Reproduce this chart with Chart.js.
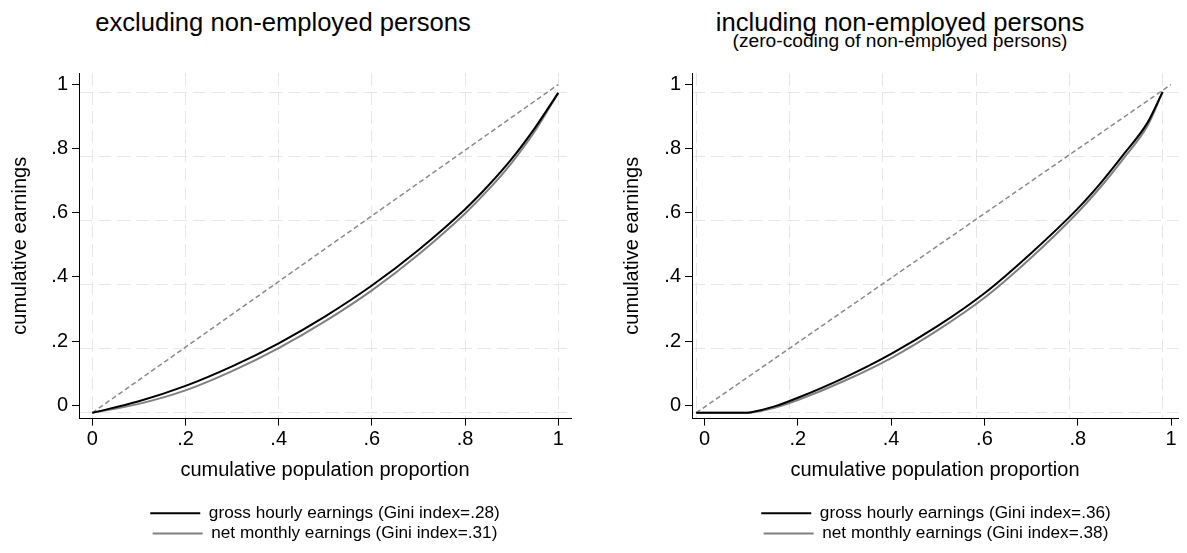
<!DOCTYPE html>
<html>
<head>
<title>Lorenz curves of earnings</title>
<script src="https://cdn.jsdelivr.net/npm/chart.js"></script>
<style>
    body {
        margin: 0;
        background: #fff;
        width: 1187px;
        height: 553px;
        overflow: hidden;
        position: relative;
        font-family: "Liberation Sans", Arial, sans-serif;
        color: #000;
    }
    .panel-title {
        position: absolute;
        width: 600px;
        top: 7px;
        text-align: center;
        font-size: 25.6px;
        line-height: 30px;
    }
    .panel-sub {
        position: absolute;
        width: 600px;
        top: 29px;
        text-align: center;
        font-size: 19.2px;
        line-height: 24px;
    }
    canvas {
        position: absolute;
        top: 0;
    }
</style>
</head>
<body>

<div class="panel-title" style="left:-17px">excluding non-employed persons</div>
<div class="panel-title" style="left:600px">including non-employed persons</div>
<div class="panel-sub" style="left:600px">(zero-coding of non-employed persons)</div>

<canvas id="exclChart" width="650" height="553" style="left:0"></canvas>
<canvas id="inclChart" width="648" height="553" style="left:612px"></canvas>

<script>
const FONT = '"Liberation Sans", Arial, sans-serif';
const axisTicks = [0, 0.2, 0.4, 0.6, 0.8, 1];

// left panel: employed persons only
const popShareExcl = [0, 0.1, 0.2, 0.3, 0.4, 0.5, 0.6, 0.7, 0.8, 0.85, 0.9, 0.95, 1];
const grossHourlyExcl = [-0.024, 0.012, 0.060, 0.121, 0.193, 0.277, 0.373, 0.484, 0.611, 0.685, 0.768, 0.865, 0.974];
const netMonthlyExcl = [-0.024, 0.004, 0.046, 0.106, 0.178, 0.262, 0.358, 0.470, 0.598, 0.672, 0.756, 0.855, 0.974];
const equalityXExcl = [0, 1];
const equalityYExcl = [-0.024, 1];
const labelsExcl = ['gross hourly earnings (Gini index=.28)', 'net monthly earnings (Gini index=.31)'];

// right panel: non-employed coded as zero earnings
const popShareIncl = [-0.018, 0.087, 0.1, 0.15, 0.2, 0.3, 0.4, 0.5, 0.6, 0.7, 0.8, 0.85, 0.9, 0.95, 0.982];
const grossHourlyIncl = [-0.024, -0.024, -0.022, -0.004, 0.023, 0.086, 0.160, 0.247, 0.349, 0.474, 0.613, 0.694, 0.785, 0.882, 0.977];
const netMonthlyIncl = [-0.024, -0.024, -0.023, -0.008, 0.016, 0.076, 0.147, 0.234, 0.335, 0.460, 0.601, 0.682, 0.773, 0.872, 0.977];
const equalityXIncl = [-0.018, 1];
const equalityYIncl = [-0.024, 1];
const labelsIncl = ['gross hourly earnings (Gini index=.36)', 'net monthly earnings (Gini index=.38)'];

function fmtTick(v) {
    return String(v).replace(/^0\./, '.');
}

function toPoints(xs, ys) {
    return xs.map((x, i) => ({ x: x, y: ys[i] }));
}

function lorenzPanel(id, p) {
    const setTicks = vals => scale => { scale.ticks = vals.map(v => ({ value: v })); };
    return new Chart(document.getElementById(id), {
        type: 'scatter',
        data: {
            datasets: [{
                label: p.labels[0],
                data: toPoints(p.x, p.gross),
                borderColor: '#000',
                borderWidth: 2,
                showLine: true,
                pointRadius: 0,
                cubicInterpolationMode: 'monotone'
            }, {
                label: p.labels[1],
                data: toPoints(p.x, p.net),
                borderColor: '#808080',
                borderWidth: 2,
                showLine: true,
                pointRadius: 0,
                cubicInterpolationMode: 'monotone'
            }, {
                label: 'line of equality',
                data: toPoints(p.eqX, p.eqY),
                borderColor: '#8a8a8a',
                borderWidth: 1.5,
                borderDash: [5, 3],
                showLine: true,
                pointRadius: 0
            }]
        },
        options: {
            responsive: false,
            animation: false,
            events: [],
            layout: { padding: { top: 73, bottom: 1, left: 0, right: 0 } },
            plugins: {
                tooltip: { enabled: false },
                legend: {
                    position: 'bottom',
                    labels: {
                        usePointStyle: true,
                        pointStyle: 'line',
                        pointStyleWidth: 50,
                        padding: 3,
                        color: '#000',
                        font: { size: 17.2, family: FONT },
                        filter: item => item.datasetIndex < 2
                    }
                }
            },
            scales: {
                x: {
                    type: 'linear',
                    position: 'bottom',
                    min: p.xMin,
                    max: p.xMax,
                    afterBuildTicks: setTicks(axisTicks),
                    afterFit: s => { s.height = 83; },
                    grid: { drawOnChartArea: false, drawTicks: true, tickLength: 7, tickColor: '#000', tickWidth: 1 },
                    border: { display: true, color: '#000', width: 1 },
                    ticks: { callback: fmtTick, color: '#000', font: { size: 20, family: FONT }, padding: 2, maxRotation: 0, autoSkip: false },
                    title: { display: true, text: 'cumulative population proportion', color: '#000', font: { size: 20, family: FONT }, padding: { top: 0, bottom: 19 } }
                },
                y: {
                    type: 'linear',
                    position: 'left',
                    min: -0.042,
                    max: 1.036,
                    afterBuildTicks: setTicks(axisTicks),
                    afterFit: s => { s.width = p.leftW; },
                    grid: { drawOnChartArea: false, drawTicks: true, tickLength: 7, tickColor: '#000', tickWidth: 1 },
                    border: { display: true, color: '#000', width: 1 },
                    ticks: { callback: fmtTick, color: '#000', font: { size: 20, family: FONT }, padding: 4, autoSkip: false },
                    title: { display: true, text: 'cumulative earnings', color: '#000', font: { size: 20, family: FONT }, padding: { top: 8, bottom: 0 } }
                },
                // background grid, drawn on its own scales
                xg: {
                    type: 'linear',
                    position: 'bottom',
                    min: p.xMin + p.gridDx,
                    max: p.xMax + p.gridDx,
                    afterBuildTicks: setTicks(axisTicks),
                    afterFit: s => { s.height = 0; },
                    ticks: { display: false },
                    grid: { color: '#e6e6e6', lineWidth: 1, drawTicks: false },
                    border: { display: false, dash: [13, 6] }
                },
                yg: {
                    type: 'linear',
                    position: 'right',
                    min: -0.042 + 0.0235,
                    max: 1.036 + 0.0235,
                    afterBuildTicks: setTicks(axisTicks),
                    afterFit: s => { s.width = p.rightW; },
                    ticks: { display: false },
                    grid: { color: '#e6e6e6', lineWidth: 1, drawTicks: false },
                    border: { display: false, dash: [13, 6] }
                }
            }
        }
    });
}

lorenzPanel('exclChart', {
    x: popShareExcl, gross: grossHourlyExcl, net: netMonthlyExcl,
    eqX: equalityXExcl, eqY: equalityYExcl, labels: labelsExcl,
    xMin: -0.0285, xMax: 1.0273, gridDx: 0, leftW: 79, rightW: 79
});

lorenzPanel('inclChart', {
    x: popShareIncl, gross: grossHourlyIncl, net: netMonthlyIncl,
    eqX: equalityXIncl, eqY: equalityYIncl, labels: labelsIncl,
    xMin: -0.027, xMax: 1.015, gridDx: 0.018, leftW: 80, rightW: 82
});
</script>

</body>
</html>
